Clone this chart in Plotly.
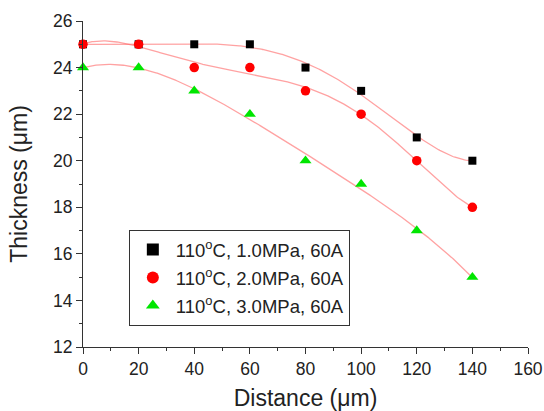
import numpy as np
import plotly.graph_objects as go

# Measured coating thickness versus distance for three spraying pressures
distance = [0, 20, 40, 60, 80, 100, 120, 140]
thick_1mpa = [25, 25, 25, 25, 24, 23, 21, 20]
thick_2mpa = [25, 25, 24, 24, 23, 22, 20, 18]
thick_3mpa = [24, 24, 23, 22, 20, 19, 17, 15]

labels = [
    "110<sup>o</sup>C, 1.0MPa, 60A",
    "110<sup>o</sup>C, 2.0MPa, 60A",
    "110<sup>o</sup>C, 3.0MPa, 60A",
]
colors = ["#000000", "#ff0000", "#00e600"]
symbols = ["square", "circle", "triangle-up"]
sizes = [8, 9.5, 10.5]
fit_degree = 5

FONT = "Liberation Sans, Arial, sans-serif"

fig = go.Figure()
series = [thick_1mpa, thick_2mpa, thick_3mpa]

# smooth polynomial trend curves, drawn beneath the markers
xs = np.linspace(distance[0], distance[-1], 300)
for ys in series:
    coef = np.polyfit(distance, ys, fit_degree)
    fig.add_trace(go.Scatter(
        x=xs, y=np.polyval(coef, xs), mode="lines",
        line=dict(color="rgba(255,100,100,0.6)", width=1.3),
        showlegend=False, hoverinfo="skip",
    ))

for k, (ys, name, c, s, sz) in enumerate(zip(series, labels, colors, symbols, sizes)):
    fig.add_trace(go.Scatter(
        x=distance, y=ys, mode="markers", name=name, legendgroup=f"g{k}",
        marker=dict(color=c, symbol=s, size=sz, line=dict(width=0)),
        cliponaxis=False,
    ))

axis_common = dict(
    showgrid=False, zeroline=False, showline=True,
    linecolor="#333333", linewidth=1,
    ticks="outside", ticklen=6, tickcolor="#333333", tickwidth=1,
    tickfont=dict(family=FONT, size=17.5, color="#222222"),
    title_font=dict(family=FONT, size=23, color="#222222"),
    mirror=False, automargin=False,
)

fig.update_xaxes(
    range=[0, 160], dtick=20, tick0=0,
    minor=dict(dtick=10, ticks="outside", ticklen=3, tickcolor="#333333"),
    title_text="Distance (μm)", title_standoff=18,
    **axis_common,
)
fig.update_yaxes(
    range=[12, 26], dtick=2, tick0=12,
    minor=dict(dtick=1, ticks="outside", ticklen=3, tickcolor="#333333"),
    title_text="Thickness (μm)", title_standoff=18,
    **axis_common,
)

fig.update_layout(
    width=544, height=411,
    margin=dict(l=83, r=16, t=21, b=64),
    paper_bgcolor="white", plot_bgcolor="white",
    legend=dict(
        x=0.103, y=0.359, xanchor="left", yanchor="top",
        bgcolor="white", bordercolor="#333333", borderwidth=1,
        font=dict(family=FONT, size=18.5, color="#222222"),
        itemsizing="constant", itemwidth=36,
        traceorder="grouped", tracegroupgap=1,
    ),
    showlegend=True,
)

fig.write_html("out.html")
